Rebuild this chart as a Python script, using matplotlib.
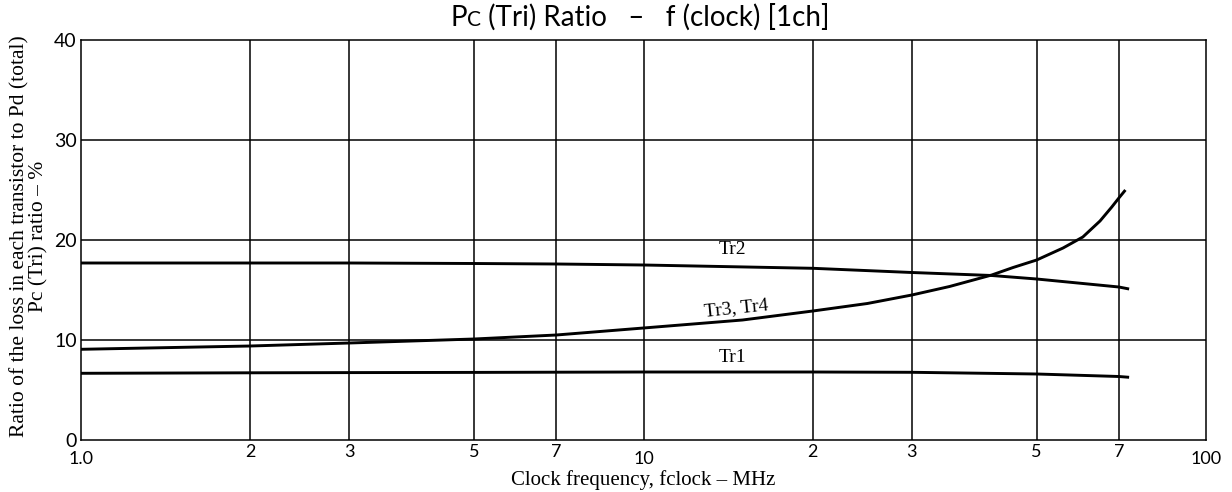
import matplotlib
matplotlib.use("Agg")
import matplotlib.pyplot as plt
from matplotlib.offsetbox import TextArea, HPacker, AnnotationBbox

# ---- data ----
tr2_x = [1, 2, 3, 5, 7, 10, 20, 30, 41.6, 50, 70, 73]
tr2_y = [17.7, 17.7, 17.7, 17.65, 17.6, 17.5, 17.17, 16.75, 16.45, 16.1, 15.3, 15.1]

tr1_x = [1, 2, 3, 5, 7, 10, 20, 30, 50, 70, 73]
tr1_y = [6.67, 6.72, 6.74, 6.76, 6.78, 6.8, 6.8, 6.77, 6.6, 6.35, 6.27]

tr34_x = [1, 2, 3, 5, 7, 10, 15, 20, 25, 30, 35, 41.6, 45.4, 50, 55.7, 60.4, 64.8, 68, 70, 71.9]
tr34_y = [9.07, 9.4, 9.7, 10.1, 10.5, 11.2, 12.0, 12.9, 13.65, 14.5, 15.35, 16.5, 17.25, 18.0, 19.2, 20.3, 21.9, 23.3, 24.2, 25.0]

major_ticks = [1, 10, 100]
major_labels = ["1.0", "10", "100"]
minor_ticks = [2, 3, 5, 7, 20, 30, 50, 70]
minor_labels = ["2", "3", "5", "7", "2", "3", "5", "7"]
y_ticks = [0, 10, 20, 30, 40]

curve_labels = [("Tr2", 14.4, 19.0, 0), ("Tr3, Tr4", 14.6, 13.2, 6), ("Tr1", 14.4, 8.3, 0)]

sans = ["Lato", "DejaVu Sans"]
serif = ["Liberation Serif", "DejaVu Serif"]

fig = plt.figure(figsize=(12.32, 4.92), dpi=100)
ax = fig.add_axes([81 / 1232, 52 / 492, (1206 - 81) / 1232, 400 / 492])

ax.set_xscale("log")
ax.set_xlim(1, 100)
ax.set_ylim(0, 40)

lw = 2.1
ax.plot(tr2_x, tr2_y, color="black", lw=lw, solid_capstyle="butt")
ax.plot(tr1_x, tr1_y, color="black", lw=lw, solid_capstyle="butt")
ax.plot(tr34_x, tr34_y, color="black", lw=lw, solid_capstyle="butt")

for txt, x, y, rot in curve_labels:
    ax.text(x, y, txt, ha="center", va="center", rotation=rot,
            family=serif, fontsize=14)

# grid
for xv in major_ticks[1:-1] + minor_ticks:
    ax.axvline(xv, color="black", lw=1.1)
for yv in y_ticks[1:-1]:
    ax.axhline(yv, color="black", lw=1.1)
for s in ax.spines.values():
    s.set_linewidth(1.1)

ax.xaxis.set_major_locator(matplotlib.ticker.FixedLocator(major_ticks))
ax.xaxis.set_minor_locator(matplotlib.ticker.FixedLocator(minor_ticks))
ax.set_xticklabels(major_labels)
ax.set_xticklabels(minor_labels, minor=True)
ax.tick_params(axis="x", which="major", length=0, pad=8, labelsize=13)
ax.tick_params(axis="x", which="minor", length=0, pad=3, labelsize=13)
ax.set_yticks(y_ticks)
ax.tick_params(axis="y", length=0, pad=3, labelsize=14)
for lab in ax.get_xticklabels(which="both") + ax.get_yticklabels():
    lab.set_family(sans)
ax.get_xticklabels()[0].set_ha("center")
ax.get_xticklabels()[0].set_x(1.03)

ax.set_xlabel("Clock frequency, fclock – MHz", family=serif, fontsize=15, labelpad=2)
ax.set_ylabel("Ratio of the loss in each transistor to Pd (total)\nPc (Tri) ratio – %",
              family=serif, fontsize=15.5, linespacing=0.95)
ax.yaxis.set_label_coords(-33 / 1125, 0.51)

# title with small "C"
parts = [TextArea("P", textprops=dict(size=20, family=sans)),
         TextArea("C", textprops=dict(size=15, family=sans)),
         TextArea(" (Tri) Ratio   –   f (clock) [1ch]", textprops=dict(size=20, family=sans))]
box = HPacker(children=parts, align="baseline", pad=0, sep=0)
ab = AnnotationBbox(box, (640 / 1232, 1 - 17 / 492), xycoords="figure fraction",
                    frameon=False, box_alignment=(0.5, 0.5))
fig.add_artist(ab)

fig.savefig("out.png", dpi=100)
